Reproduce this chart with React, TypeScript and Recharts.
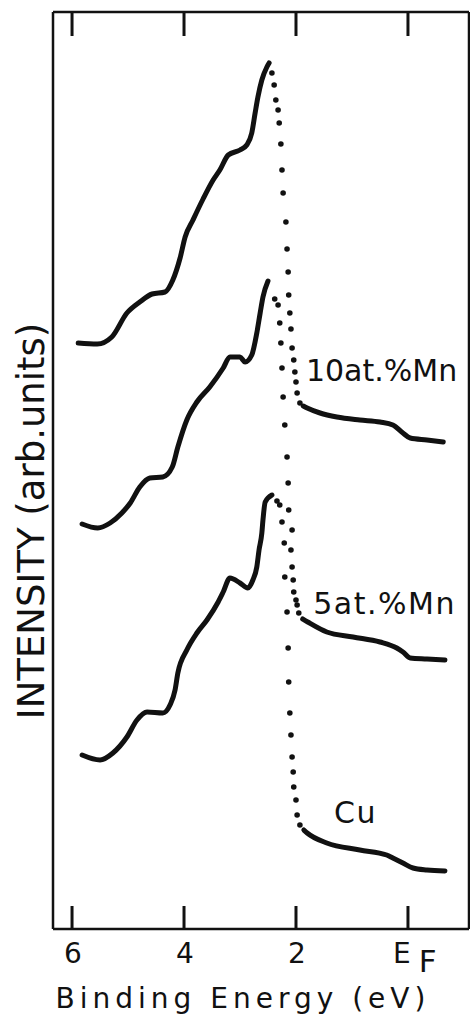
import { ComposedChart, Label, Line, ReferenceDot, ReferenceLine, Scatter, XAxis, YAxis } from "recharts"

// binding energy (eV), intensity (arb. units)
const mn10Rise = [
  [5.89, 58.6], [5.55, 58.5], [5.29, 59.2], [5.02, 61.6], [4.79, 62.7], [4.57, 63.5], [4.34, 63.7],
  [4.2, 64.9], [4.07, 67.1], [3.98, 69.2], [3.84, 70.9], [3.66, 73.0], [3.48, 74.9], [3.36, 75.9],
  [3.21, 77.4], [3.0, 77.9], [2.88, 78.4], [2.79, 79.6], [2.73, 81.6], [2.68, 83.2], [2.61, 84.9],
  [2.52, 86.2], [2.48, 86.6],
]
const mn10Drop = [
  [2.43, 85.6], [2.39, 84.4], [2.36, 82.9], [2.32, 81.9], [2.3, 80.6], [2.27, 78.5], [2.25, 75.9],
  [2.23, 73.6], [2.18, 70.7], [2.16, 68.0], [2.14, 65.7], [2.13, 63.4], [2.11, 61.6], [2.09, 60.0],
  [2.07, 58.1], [2.04, 56.9], [2.02, 55.7], [2.0, 54.7], [1.98, 53.6], [1.93, 52.6],
]
const mn10Tail = [
  [1.87, 52.3], [1.8, 52.1], [1.57, 51.6], [1.27, 51.2], [0.86, 50.9], [0.5, 50.7], [0.27, 50.4],
  [0.09, 49.6], [-0.04, 49.1], [-0.34, 48.9], [-0.63, 48.7],
]

const mn5Rise = [
  [5.82, 40.5], [5.54, 40.1], [5.32, 40.6], [5.11, 41.6], [4.96, 42.6], [4.79, 44.2], [4.61, 45.1],
  [4.38, 45.2], [4.21, 46.2], [4.11, 48.2], [3.95, 50.9], [3.77, 52.7], [3.54, 54.2], [3.3, 56.1],
  [3.18, 57.2], [3.0, 57.2], [2.91, 56.7], [2.79, 57.4], [2.7, 59.6], [2.64, 61.6], [2.59, 63.2],
  [2.5, 64.8],
]
const mn5Drop = [
  [2.38, 63.0], [2.32, 62.4], [2.29, 60.6], [2.27, 58.6], [2.25, 56.1], [2.23, 53.2], [2.2, 50.4],
  [2.16, 47.2], [2.14, 44.6], [2.13, 41.9], [2.07, 39.9], [2.09, 37.9], [2.07, 36.2], [2.05, 34.9],
  [2.04, 33.7], [2.0, 32.9], [1.98, 32.4], [1.95, 31.6],
]
const mn5Tail = [
  [1.88, 31.0], [1.79, 30.7], [1.45, 29.7], [0.98, 29.2], [0.5, 28.7], [0.2, 28.1], [0.09, 27.7],
  [-0.04, 27.1], [-0.34, 27.0], [-0.66, 26.9],
]

const cuRise = [
  [5.82, 17.4], [5.5, 16.9], [5.27, 17.6], [5.02, 19.2], [4.84, 20.9], [4.66, 21.7], [4.38, 21.6],
  [4.25, 22.4], [4.16, 23.9], [4.11, 25.6], [3.95, 27.9], [3.77, 29.6], [3.59, 30.9], [3.39, 32.7],
  [3.3, 33.7], [3.18, 35.1], [3.0, 34.6], [2.86, 34.1], [2.77, 34.9], [2.7, 36.2], [2.66, 37.9],
  [2.61, 39.6], [2.59, 40.9], [2.55, 42.7], [2.43, 43.4],
]
const cuDrop = [
  [2.34, 42.8], [2.29, 42.4], [2.25, 40.7], [2.21, 38.6], [2.2, 35.2], [2.16, 31.7], [2.14, 28.1],
  [2.13, 24.7], [2.11, 21.6], [2.09, 19.4], [2.07, 17.2], [2.05, 15.7], [2.04, 14.2], [2.0, 12.9],
  [1.98, 11.4], [1.93, 10.4],
]
const cuTail = [
  [1.86, 9.9], [1.8, 9.6], [1.45, 8.6], [0.86, 7.9], [0.38, 7.4], [0.27, 7.1], [0.09, 6.6],
  [-0.09, 6.1], [-0.34, 5.9], [-0.66, 5.8],
]

const energyTicks = [6, 4, 2, 0]
const curveLabels = [
  { name: "10at.%Mn", x: 1.84, y: 55.9, spacing: 0 },
  { name: "5at.%Mn", x: 1.71, y: 32.6, spacing: 1.5 },
  { name: "Cu", x: 1.34, y: 11.7, spacing: 1.5 },
]

const FONT = "'DejaVu Sans', sans-serif"
const INK = "#111"
const Y_MAX = 91.7
const TICK_PX = 23
const LABEL_GAP = 14

const pts = (rows: number[][]) => rows.map(([x, y]) => ({ x, y }))

// bottom ticks: inward tick mark plus the energy label below the axis
function EnergyTick(props: any) {
  const { x, y, payload } = props
  const axisY = y - LABEL_GAP
  const mark = <line x1={x} x2={x} y1={axisY} y2={axisY - TICK_PX} stroke={INK} strokeWidth={3} />
  if (payload.value === 0) {
    return (
      <g>
        {mark}
        <text x={x - 15} y={y} dy="0.71em" fontSize={28} fontFamily={FONT} fill={INK}>
          E
          <tspan dx={8} dy={9} fontSize={31}>F</tspan>
        </text>
      </g>
    )
  }
  return (
    <g>
      {mark}
      <text x={x + 1} y={y} dy="0.71em" textAnchor="middle" fontSize={28} fontFamily={FONT} fill={INK}>
        {payload.value}
      </text>
    </g>
  )
}

const dot = (p: any) => <circle cx={p.cx} cy={p.cy} r={2.8} fill={INK} />

const frame = { stroke: INK, strokeWidth: 2.5 }

export default function App() {
  const lineProps = {
    dataKey: "y",
    type: "monotone" as const,
    stroke: INK,
    strokeWidth: 5,
    strokeLinecap: "round" as const,
    dot: false,
    activeDot: false,
    isAnimationActive: false,
  }
  return (
    <div style={{ position: "absolute", left: 0, top: 0, background: "#fff" }}>
      <ComposedChart width={470} height={1019} margin={{ top: 11, right: 0, bottom: 0, left: 52 }}>
        <XAxis
          dataKey="x"
          type="number"
          reversed
          domain={[-1.09, 6.34]}
          allowDataOverflow
          ticks={energyTicks}
          tickSize={0}
          tickMargin={LABEL_GAP}
          tickLine={false}
          axisLine={frame}
          tick={<EnergyTick />}
          height={90}
        >
          <Label
            content={() => (
              <text x={243} y={1008} textAnchor="middle" fontSize={28} letterSpacing={5} fontFamily={FONT} fill={INK}>
                Binding Energy (eV)
              </text>
            )}
          />
        </XAxis>
        <XAxis
          xAxisId="top"
          dataKey="x"
          type="number"
          orientation="top"
          reversed
          domain={[-1.09, 6.34]}
          allowDataOverflow
          ticks={energyTicks}
          tick={false}
          tickLine={false}
          axisLine={frame}
          height={1}
        />
        <YAxis dataKey="y" type="number" domain={[0, Y_MAX]} width={1} tick={false} tickLine={false} axisLine={frame}>
          <Label
            content={() => (
              <text
                x={31}
                y={521}
                transform="rotate(-90 31 521)"
                textAnchor="middle"
                dominantBaseline="central"
                fontSize={37}
                fontFamily={FONT}
                fill={INK}
              >
                INTENSITY (arb.units)
              </text>
            )}
          />
        </YAxis>
        <YAxis
          yAxisId="r"
          orientation="right"
          type="number"
          domain={[0, Y_MAX]}
          width={1}
          tick={false}
          tickLine={false}
          axisLine={frame}
        />

        {/* inward tick marks along the top edge */}
        {energyTicks.map((t) => (
          <ReferenceLine
            key={`t${t}`}
            segment={[{ x: t, y: Y_MAX - 2.4 }, { x: t, y: Y_MAX }]}
            stroke={INK}
            strokeWidth={3}
          />
        ))}

        <Line data={pts(mn10Rise)} {...lineProps} />
        <Scatter data={pts(mn10Drop)} shape={dot} isAnimationActive={false} />
        <Line data={pts(mn10Tail)} {...lineProps} />

        <Line data={pts(mn5Rise)} {...lineProps} />
        <Scatter data={pts(mn5Drop)} shape={dot} isAnimationActive={false} />
        <Line data={pts(mn5Tail)} {...lineProps} />

        <Line data={pts(cuRise)} {...lineProps} />
        <Scatter data={pts(cuDrop)} shape={dot} isAnimationActive={false} />
        <Line data={pts(cuTail)} {...lineProps} />

        {curveLabels.map((c) => (
          <ReferenceDot
            key={c.name}
            x={c.x}
            y={c.y}
            r={1}
            fill="none"
            stroke="none"
            label={{
              value: c.name,
              position: "right",
              offset: 0,
              fontSize: 30,
              fill: INK,
              fontFamily: FONT,
              letterSpacing: c.spacing,
            }}
          />
        ))}
      </ComposedChart>
    </div>
  )
}
